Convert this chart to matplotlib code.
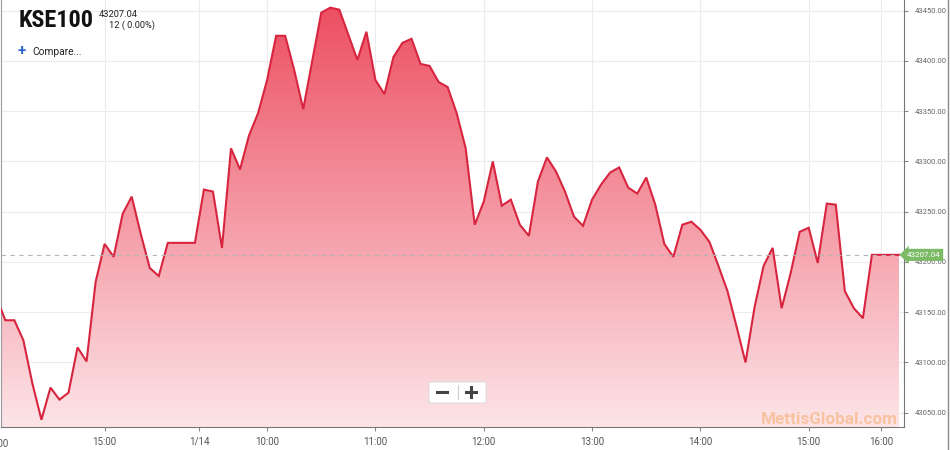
import matplotlib
matplotlib.use("Agg")
import matplotlib.pyplot as plt
import matplotlib.transforms as mtrans
from matplotlib.patches import FancyBboxPatch
from matplotlib.lines import Line2D
from matplotlib import font_manager as fm
import numpy as np

plt.rcParams['font.family'] = ['Roboto', 'DejaVu Sans']

# ---------------- data ----------------
symbol = "KSE100"
last_value = 43207.04
change_text = "12 ( 0.00%)"
day_break_label = "1/14"

day1_times = ["14:00", "14:05", "14:10", "14:15", "14:20", "14:25", "14:30", "14:35",
              "14:40", "14:45", "14:50", "14:55", "15:00", "15:05", "15:10", "15:15",
              "15:20", "15:25", "15:30", "15:35", "15:40", "15:45", "15:50"]
day2_times = ["09:25", "09:30", "09:35", "09:40", "09:45", "09:50", "09:55",
              "10:00", "10:05", "10:10", "10:15", "10:20", "10:25", "10:30", "10:35",
              "10:40", "10:45", "10:50", "10:55",
              "11:00", "11:05", "11:10", "11:15", "11:20", "11:25", "11:30", "11:35",
              "11:40", "11:45", "11:50", "11:55",
              "12:00", "12:05", "12:10", "12:15", "12:20", "12:25", "12:30", "12:35",
              "12:40", "12:45", "12:50", "12:55",
              "13:00", "13:05", "13:10", "13:15", "13:20", "13:25", "13:30", "13:35",
              "13:40", "13:45", "13:50", "13:55",
              "14:00", "14:05", "14:10", "14:15", "14:20", "14:25", "14:30", "14:35",
              "14:40", "14:45", "14:50", "14:55",
              "15:00", "15:05", "15:10", "15:15", "15:20", "15:25", "15:30",
              "15:35", "16:00", "16:05", "16:10"]

day1_values = [43165, 43142, 43142, 43122, 43079, 43043, 43075, 43063, 43070, 43115,
               43101, 43180, 43218, 43205, 43248, 43265, 43228, 43194, 43186, 43219,
               43219, 43219, 43219]
day2_values = [43272, 43270, 43214, 43313, 43292, 43326, 43348,
               43381, 43425, 43425, 43391, 43352, 43400, 43448, 43453, 43451, 43426,
               43401, 43429,
               43381, 43367, 43404, 43418, 43422, 43397, 43395, 43379, 43374, 43348,
               43313, 43237,
               43260, 43300, 43256, 43262, 43237, 43226, 43280, 43304, 43290, 43270,
               43245, 43236,
               43262, 43277, 43289, 43294, 43274, 43268, 43284, 43257, 43218, 43205,
               43237, 43240,
               43232, 43220, 43196, 43171, 43136, 43100, 43155, 43196, 43214, 43154,
               43189, 43230,
               43234, 43199, 43258, 43257, 43171, 43154, 43144,
               43207.04, 43207.04, 43207.04, 43207.04]

y_ticks = [43050, 43100, 43150, 43200, 43250, 43300, 43350, 43400, 43450]

# ---------------- figure ----------------
W, H = 950, 450
fig = plt.figure(figsize=(W / 100, H / 100), dpi=100)
fig.patch.set_facecolor('white')
ax = fig.add_axes([1 / W, 23 / H, 902.5 / W, 427 / H])

times = day1_times + day2_times
values = np.array(day1_values + day2_values, dtype=float)
x = np.arange(len(values))

ymin, ymax = 43035.8, 43460.6
ax.set_xlim(0.52, 100.5)
ax.set_ylim(ymin, ymax)

# ticks & grid
hour_idx = [i for i, t in enumerate(times) if t.endswith(":00")]
break_pos = (len(day1_times) - 1 + len(day1_times)) / 2.0
tick_pos = hour_idx + [break_pos]
tick_lab = [times[i] for i in hour_idx] + [day_break_label]
order = np.argsort(tick_pos)
tick_pos = [tick_pos[i] for i in order]
tick_lab = [tick_lab[i] for i in order]
ax.set_xticks(tick_pos)
ax.set_xticklabels(tick_lab)
ax.set_yticks(y_ticks)
ax.set_yticklabels([f"{v:.2f}" for v in y_ticks])
ax.grid(True, color='#ececec', lw=0.8, zorder=0)
ax.set_axisbelow(True)

# gradient area
poly = ax.fill_between(x, values, ymin, facecolor='none', edgecolor='none')
n = 256
frac = np.linspace(0, 1, n)[:, None]  # 0 bottom -> 1 top
alpha = 0.13 + (0.88 - 0.13) * frac
base = np.array([234, 52, 74]) / 255.0
rgb = alpha[..., None] * base + (1 - alpha[..., None]) * 1.0
img = np.repeat(rgb, 2, axis=1)
im = ax.imshow(img, extent=[ax.get_xlim()[0], ax.get_xlim()[1], ymin, ymax],
               origin='lower', aspect='auto', zorder=1, interpolation='bilinear')
im.set_clip_path(poly.get_paths()[0], transform=ax.transData)
ax.set_xlim(0.52, 100.5)
ax.set_ylim(ymin, ymax)

ax.plot(x, values, color='#d8253f', lw=1.5, zorder=3, solid_joinstyle='miter')

# last value dashed line
ax.axhline(last_value, color='#b5b5b5', lw=0.8, ls=(0, (4, 4)), zorder=4)

# axes styling
ax.yaxis.tick_right()
ax.spines['top'].set_visible(False)
ax.spines['right'].set_color('#777777')
ax.spines['bottom'].set_color('#777777')
ax.spines['left'].set_color('#9a9a9a')
ax.tick_params(axis='x', length=3, color='#888888', labelsize=7, labelcolor='#555555', pad=4)
ax.tick_params(axis='y', length=3, color='#888888', labelsize=5.5, labelcolor='#666666', pad=5)

# clipped first tick label (14:00 at left edge)
trans_xb = mtrans.blended_transform_factory(ax.transData, ax.transAxes)
ax.text(0, -0.0117 - 7 / 427, times[0], transform=trans_xb, ha='center', va='top',
        fontsize=7, color='#555555', clip_on=False)

# green last value label
trans_yr = mtrans.blended_transform_factory(ax.transAxes, ax.transData)
ax.text(1.0 + 3 / 902.5, last_value, f"{last_value:.2f}", transform=trans_yr,
        ha='left', va='center', fontsize=5.8, color='white', zorder=6, clip_on=False,
        bbox=dict(boxstyle='larrow,pad=0.38', fc='#7cba66', ec='none'))

# header texts
def fx(px):
    return px / W

def fy(py):
    return 1 - py / H

# choose a narrow bold family if available
title_family = None
for fam, stretch in [('Roboto Condensed', 'normal'), ('Liberation Sans Narrow', 'normal'),
                     ('DejaVu Sans', 'condensed')]:
    try:
        fp = fm.FontProperties(family=fam, weight='bold', stretch=stretch)
        path = fm.findfont(fp, fallback_to_default=False)
        if 'ondensed' in path or 'arrow' in path:
            title_family = (fam, stretch)
            break
    except Exception:
        pass

if title_family is not None:
    fig.text(fx(19), fy(27), symbol, fontsize=17.5, fontweight='bold',
             family=[title_family[0]], fontstretch=title_family[1],
             color='#111111', va='baseline')
else:
    fig.text(fx(19), fy(27), symbol, fontsize=15, fontweight='bold',
             family=['Roboto', 'DejaVu Sans'], color='#111111', va='baseline')

fig.text(fx(99), fy(17), f"{last_value:.2f}", fontsize=6.7, color='#222222', va='baseline')
fig.text(fx(109), fy(28), change_text, fontsize=6.7, color='#222222', va='baseline')
fig.text(fx(22), fy(51), "+", fontsize=11, fontweight='bold', color='#2a62c9', ha='center', va='center')
fig.text(fx(32), fy(55), "Compare...", fontsize=7.3, color='#222222', va='baseline')

# zoom buttons
box = FancyBboxPatch((fx(429), fy(403)), 57 / W, 21 / H,
                     boxstyle='round,pad=0,rounding_size=0.003', transform=fig.transFigure,
                     fc='white', ec='#dddddd', lw=0.8, zorder=10)
fig.patches.append(box)
fig.lines.append(Line2D([fx(458), fx(458)], [fy(385), fy(399)], transform=fig.transFigure,
                        color='#cccccc', lw=0.8, zorder=11))
fig.lines.append(Line2D([fx(437), fx(447)], [fy(392), fy(392)], transform=fig.transFigure,
                        color='#444444', lw=2.2, zorder=11))
fig.lines.append(Line2D([fx(466), fx(476)], [fy(392), fy(392)], transform=fig.transFigure,
                        color='#444444', lw=2.2, zorder=11))
fig.lines.append(Line2D([fx(471), fx(471)], [fy(387), fy(397)], transform=fig.transFigure,
                        color='#444444', lw=2.2, zorder=11))

# watermark
fig.text(fx(898), fy(424), "MettisGlobal.com", fontsize=12.3, fontweight='bold',
         color='#f6b27a', alpha=0.65, ha='right', va='baseline', zorder=12)

# outer right frame
fig.lines.append(Line2D([fx(948), fx(948)], [0, 1], transform=fig.transFigure,
                        color='#888888', lw=1))

fig.savefig("out.png", dpi=100)
